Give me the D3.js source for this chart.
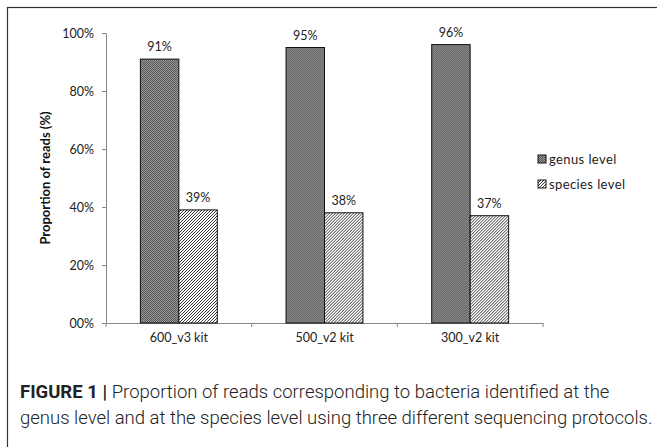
<!DOCTYPE html>
<html>
<head>
<meta charset="utf-8">
<script src="https://cdn.jsdelivr.net/npm/d3@7"></script>
<style>
  body { margin: 0; background: #fff; }
  svg { display: block; }
</style>
</head>
<body>
<div id="drawArea"></div>
<script>
const kits = ['600_v3 kit', '500_v2 kit', '300_v2 kit'];
const seriesNames = ['genus level', 'species level'];
const genusValues = [0.91, 0.95, 0.96];
const speciesValues = [0.39, 0.38, 0.37];
const yTicks = [0, 0.2, 0.4, 0.6, 0.8, 1.0];
const yTickLabels = ['00%', '20%', '40%', '60%', '80%', '100%'];
const valueLabels = [['91%', '95%', '96%'], ['39%', '38%', '37%']];

const width = 657;
const height = 447;
const chartFont = 'Lato, "Open Sans", sans-serif';

const svg = d3.select('#drawArea').append('svg')
  .attr('width', width)
  .attr('height', height);

// patterns for the two series
const defs = svg.append('defs');
const dots = defs.append('pattern')
  .attr('id', 'genusFill')
  .attr('width', 2).attr('height', 2)
  .attr('patternUnits', 'userSpaceOnUse');
dots.append('rect').attr('width', 2).attr('height', 2).attr('fill', '#9c9c9c');
dots.append('rect').attr('width', 1).attr('height', 1).attr('fill', '#555');
dots.append('rect').attr('x', 1).attr('y', 1).attr('width', 1).attr('height', 1).attr('fill', '#555');

const hatch = defs.append('pattern')
  .attr('id', 'speciesFill')
  .attr('width', 3).attr('height', 3)
  .attr('patternUnits', 'userSpaceOnUse');
hatch.append('rect').attr('width', 3).attr('height', 3).attr('fill', '#fff');
hatch.append('path')
  .attr('d', 'M-1,1 l2,-2 M0,3 l3,-3 M2,4 l2,-2')
  .attr('stroke', '#222')
  .attr('stroke-width', 0.9);

const fills = ['url(#genusFill)', 'url(#speciesFill)'];

// outer frame
svg.append('rect')
  .attr('x', 7.5).attr('y', 7.5)
  .attr('width', width + 10).attr('height', height + 10)
  .attr('fill', 'none')
  .attr('stroke', '#333')
  .attr('stroke-width', 1.2);

const x = d3.scaleBand()
  .domain(kits)
  .range([106, 543])
  .padding(0);

const xInner = d3.scaleBand()
  .domain(seriesNames)
  .range([x.bandwidth() * 0.236, x.bandwidth() * 0.764]);

const y = d3.scaleLinear()
  .domain([0, 1])
  .range([323, 33]);

const table = kits.map((k, i) => ({
  kit: k,
  values: [genusValues[i], speciesValues[i]]
}));

// y axis
const yAxis = svg.append('g')
  .attr('transform', 'translate(106,0)')
  .call(d3.axisLeft(y).tickValues(yTicks).tickSize(4).tickFormat((d, i) => yTickLabels[i]));
yAxis.select('.domain').attr('stroke', '#888');
yAxis.selectAll('.tick line').attr('stroke', '#888');
yAxis.selectAll('.tick text')
  .attr('font-family', chartFont)
  .attr('font-size', 12.5)
  .attr('fill', '#222')
  .attr('x', -12);

// x axis
const xAxis = svg.append('g')
  .attr('transform', 'translate(0,323)')
  .call(d3.axisBottom(x).tickSize(0).tickSizeOuter(0));
xAxis.select('.domain').attr('stroke', '#888');
xAxis.selectAll('.tick text')
  .attr('font-family', chartFont)
  .attr('font-size', 12.5)
  .attr('fill', '#222')
  .attr('dy', '1.3em');
// tick marks at band edges
const edges = kits.map(k => x(k)).concat([x(kits[kits.length - 1]) + x.bandwidth()]);
xAxis.selectAll('.edge')
  .data(edges)
  .join('line')
  .attr('x1', d => d).attr('x2', d => d)
  .attr('y1', 0).attr('y2', 4)
  .attr('stroke', '#888');

// bars
const groups = svg.append('g').selectAll('g')
  .data(table)
  .join('g')
  .attr('transform', d => `translate(${x(d.kit)},0)`);

groups.selectAll('rect')
  .data(d => d.values.map((v, j) => ({ series: seriesNames[j], v, j })))
  .join('rect')
  .attr('x', d => xInner(d.series))
  .attr('y', d => y(d.v))
  .attr('width', xInner.bandwidth())
  .attr('height', d => y(0) - y(d.v))
  .attr('fill', d => fills[d.j])
  .attr('stroke', '#111')
  .attr('stroke-width', 1);

groups.selectAll('text.val')
  .data((d, i) => d.values.map((v, j) => ({ series: seriesNames[j], v, label: valueLabels[j][i] })))
  .join('text')
  .attr('class', 'val')
  .attr('x', d => xInner(d.series) + xInner.bandwidth() / 2)
  .attr('y', d => y(d.v) - 8)
  .attr('text-anchor', 'middle')
  .attr('font-family', chartFont)
  .attr('font-size', 12.5)
  .attr('fill', '#222')
  .text(d => d.label);

// y axis title
svg.append('text')
  .attr('transform', 'translate(50,178) rotate(-90)')
  .attr('text-anchor', 'middle')
  .attr('font-family', chartFont)
  .attr('font-weight', 'bold')
  .attr('font-size', 13)
  .attr('fill', '#111')
  .text('Proportion of reads (%)');

// legend
const legend = svg.append('g').selectAll('g')
  .data(seriesNames)
  .join('g')
  .attr('transform', (d, i) => `translate(538,${155 + i * 25})`);
legend.append('rect')
  .attr('width', 8).attr('height', 8)
  .attr('fill', (d, i) => fills[i])
  .attr('stroke', '#111');
legend.append('text')
  .attr('x', 11).attr('y', 9)
  .attr('font-family', chartFont)
  .attr('font-size', 13)
  .attr('letter-spacing', 0.4)
  .attr('fill', '#222')
  .text(d => d);

// caption
const caption = svg.append('text')
  .attr('font-family', 'Roboto, sans-serif')
  .attr('font-size', 18.5)
  .attr('fill', '#222');
const line1 = caption.append('tspan').attr('x', 20).attr('y', 398);
line1.append('tspan').attr('font-weight', 'bold').text('FIGURE 1 | ');
line1.append('tspan').attr('font-weight', 300)
  .text('Proportion of reads corresponding to bacteria identified at the');
caption.append('tspan').attr('x', 20).attr('y', 424).attr('font-weight', 300)
  .text('genus level and at the species level using three different sequencing protocols.');
</script>
</body>
</html>
